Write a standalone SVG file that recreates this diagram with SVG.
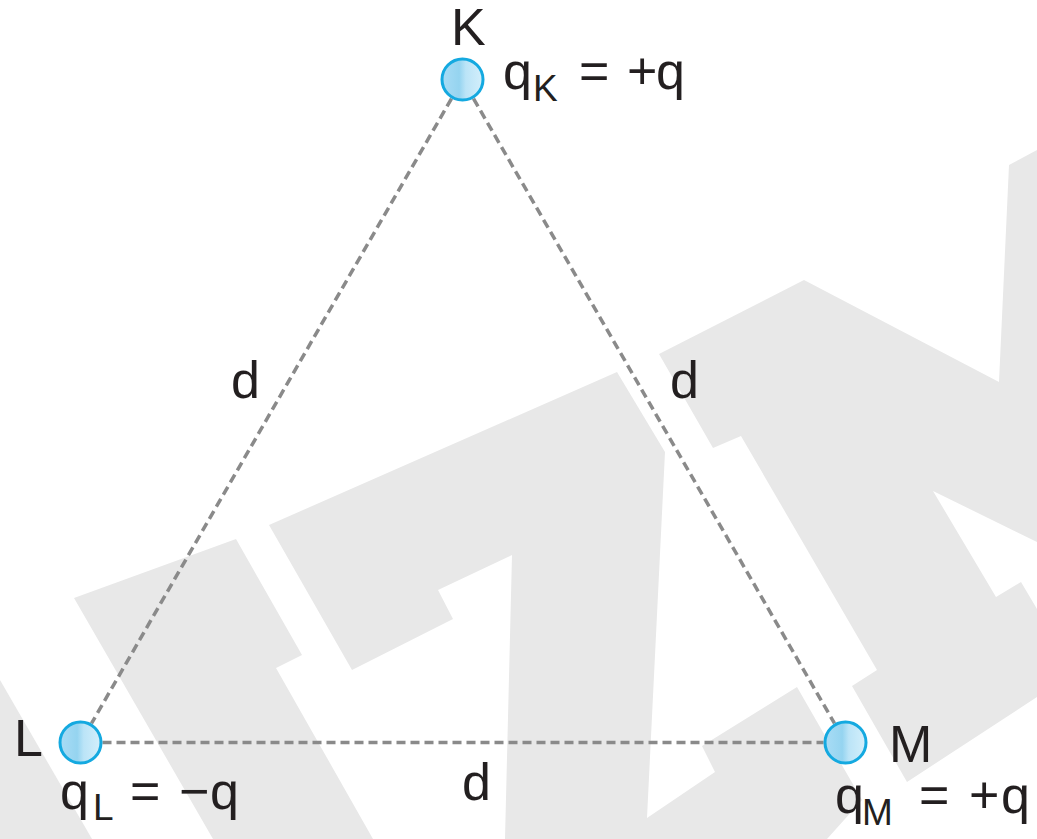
<svg xmlns="http://www.w3.org/2000/svg" width="1037" height="839" viewBox="0 0 1037 839">
  <defs>
    <linearGradient id="ball" x1="0" y1="0" x2="1" y2="0">
      <stop offset="0" stop-color="#a9dcf5"/>
      <stop offset="0.42" stop-color="#95d4f0"/>
      <stop offset="0.58" stop-color="#bbe4f7"/>
      <stop offset="1" stop-color="#d4effb"/>
    </linearGradient>
    <style>
      .wm { fill: #e8e8e8; }
      .edge { stroke: #8a8a8a; stroke-width: 3.5; stroke-dasharray: 9 5; fill: none; }
      .ball { fill: url(#ball); stroke: #14a9e0; stroke-width: 3; }
      .t { font-family: "Liberation Sans", Arial, sans-serif; font-size: 52px; fill: #231f20; }
      .s { font-size: 37px; }
    </style>
  </defs>
  <rect width="1037" height="839" fill="#ffffff"/>
  <g id="watermark">
    <polygon class="wm" points="0,680 92,839 0,839"/>
    <polygon class="wm" points="74,598 236,539 302,655 276,668 373,839 213,839"/>
    <polygon class="wm" points="269,525 617,372 665,452 647,818 715,772 702,746 797,687 862,800 827,839 505,839 512,555 438,590 453,619 352,670"/>
    <polygon class="wm" points="659,354 804,280 999,382 1009,165 1037,150 1037,542 933,491 996,597 1021,582 1037,609 1037,697 907,782 852,686 877,670 741,436 713,448"/>
  </g>
  <g id="connectors">
    <line class="edge" x1="451.5" y1="98.6" x2="91.5" y2="723.4"/>
    <line class="edge" x1="473.5" y1="98.6" x2="834.5" y2="723.4"/>
    <line class="edge" x1="102.5" y1="742.5" x2="823.5" y2="742.5"/>
  </g>
  <g id="edge-labels">
    <text class="t" x="231" y="398">d</text>
    <text class="t" x="670" y="398">d</text>
    <text class="t" x="462" y="800">d</text>
  </g>
  <g id="node-K">
    <circle class="ball" cx="462.5" cy="79.5" r="20.5"/>
    <text class="t" x="451" y="45">K</text>
    <text class="t" y="89"><tspan x="503">q</tspan><tspan class="s" x="533" y="101">K</tspan><tspan x="579" y="89">=</tspan><tspan x="627">+</tspan><tspan x="656">q</tspan></text>
  </g>
  <g id="node-L">
    <circle class="ball" cx="80.5" cy="742.5" r="20.5"/>
    <text class="t" x="14" y="756">L</text>
    <text class="t" y="809"><tspan x="60">q</tspan><tspan class="s" x="93" y="820">L</tspan><tspan x="130" y="809">=</tspan><tspan x="179">−</tspan><tspan x="210">q</tspan></text>
  </g>
  <g id="node-M">
    <circle class="ball" cx="845.5" cy="742.5" r="20.5"/>
    <text class="t" x="889" y="762">M</text>
    <text class="t" y="813"><tspan x="835">q</tspan><tspan class="s" x="862" y="825">M</tspan><tspan x="919" y="813">=</tspan><tspan x="969">+</tspan><tspan x="1001">q</tspan></text>
  </g>
</svg>
